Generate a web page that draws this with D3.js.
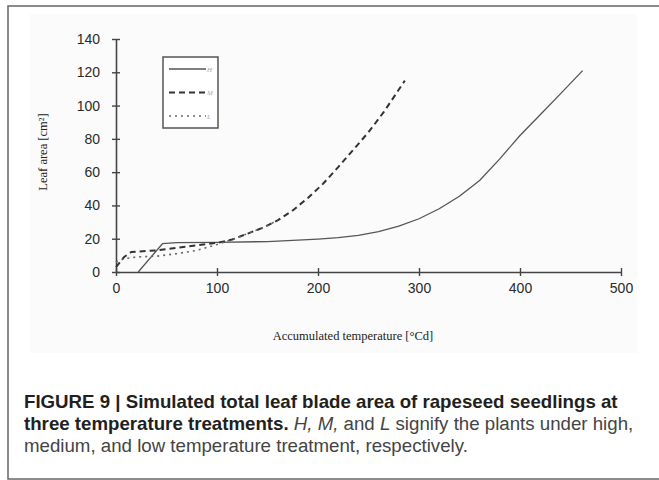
<!DOCTYPE html>
<html>
<head>
<meta charset="utf-8">
<script src="https://cdn.jsdelivr.net/npm/d3@7"></script>
<style>
  body { margin: 0; background: #fff; }
  svg { display: block; }
</style>
</head>
<body>
<svg id="chart" width="659" height="480"></svg>
<script>
// series: [accumulated temperature, leaf area]
const seriesH = [[22,0],[46,17],[60,17.6],[100,17.8],[150,18.3],[200,19.8],[220,20.6],[240,22],[260,24.2],[280,27.5],[300,32],[320,38],[340,45.5],[360,55],[380,68],[400,82],[420,94.5],[440,107],[462,121]];
const seriesM = [[0,3],[8,9],[15,12],[40,13],[60,14.5],[80,16],[100,17.5],[115,19.5],[130,23],[145,26.5],[160,31],[175,37],[190,44.5],[205,53],[220,63],[235,73.5],[250,84],[265,96],[286,115]];
const seriesL = [[0,6],[8,8],[20,9],[40,9.5],[60,11],[80,13],[100,16.5],[115,19.5],[130,23],[145,26.5],[160,31]];
const xTicks = [0, 100, 200, 300, 400, 500];
const yTicks = [0, 20, 40, 60, 80, 100, 120, 140];
const legendNames = ['H', 'M', 'L'];

const svg = d3.select('#chart');

// outer frame (right side runs off the page)
svg.append('rect')
    .attr('x', 8).attr('y', 6)
    .attr('width', 670).attr('height', 473)
    .attr('fill', 'none')
    .attr('stroke', '#666')
    .attr('stroke-width', 1.5);

// faint background of the embedded chart image
svg.append('rect')
    .attr('x', 30).attr('y', 14)
    .attr('width', 607).attr('height', 339)
    .attr('fill', '#fbfbfb');

const x = d3.scaleLinear().domain([0, 500]).range([116, 621]);
const y = d3.scaleLinear().domain([0, 140]).range([272, 39]);

const tickFont = '14px "Liberation Sans", Arial, sans-serif';

// y axis
const gy = svg.append('g')
    .attr('transform', `translate(${x(0)},0)`)
    .call(d3.axisLeft(y).tickValues(yTicks).tickSize(4).tickPadding(12).tickSizeOuter(0));
gy.selectAll('.tick line').attr('x1', -4).attr('x2', 4);

// x axis
const gx = svg.append('g')
    .attr('transform', `translate(0,${y(0)})`)
    .call(d3.axisBottom(x).tickValues(xTicks).tickSize(4).tickPadding(7).tickSizeOuter(0));
gx.selectAll('.tick line').attr('y1', -4).attr('y2', 4);

[gx, gy].forEach(g => {
    g.select('.domain').attr('stroke', '#444').attr('stroke-width', 1.6);
    g.selectAll('.tick line').attr('stroke', '#444').attr('stroke-width', 1.4);
    g.selectAll('.tick text').style('font', tickFont).attr('fill', '#2a2a2a');
});

// curves
const line = d3.line()
    .x(d => x(d[0]))
    .y(d => y(d[1]));

const styles = [
    { data: seriesH, dash: null, width: 1.3, color: '#555' },
    { data: seriesM, dash: '6,4', width: 2, color: '#333' },
    { data: seriesL, dash: '2,4', width: 1.6, color: '#666' }
];

styles.forEach(s => {
    svg.append('path')
        .datum(s.data)
        .attr('d', line)
        .attr('fill', 'none')
        .attr('stroke', s.color)
        .attr('stroke-width', s.width)
        .attr('stroke-linejoin', 'round')
        .attr('stroke-dasharray', s.dash);
});

// legend
svg.append('rect')
    .attr('x', 163).attr('y', 57)
    .attr('width', 55).attr('height', 71)
    .attr('fill', '#fff')
    .attr('stroke', '#555')
    .attr('stroke-width', 1.5);

styles.forEach((s, i) => {
    const ly = 69 + i * 23.5;
    svg.append('line')
        .attr('x1', 169).attr('x2', 206)
        .attr('y1', ly).attr('y2', ly)
        .attr('stroke', s.color)
        .attr('stroke-width', s.width)
        .attr('stroke-dasharray', s.dash);
    svg.append('text')
        .attr('x', 207).attr('y', ly + 2.5)
        .style('font', 'italic 7px "Liberation Serif", serif')
        .attr('fill', '#aaa')
        .text(legendNames[i]);
});

// axis titles
svg.append('text')
    .attr('transform', 'translate(47,152) rotate(-90)')
    .attr('text-anchor', 'middle')
    .style('font', '12.5px "Liberation Serif", "Times New Roman", serif')
    .attr('fill', '#222')
    .text('Leaf area [cm²]');

svg.append('text')
    .attr('x', 353).attr('y', 340)
    .attr('text-anchor', 'middle')
    .style('font', '12.5px "Liberation Serif", "Times New Roman", serif')
    .attr('fill', '#222')
    .text('Accumulated temperature [°Cd]');

// caption
const capFont = '"Liberation Sans", Arial, sans-serif';
const cap = svg.append('g').style('font-family', capFont);

const l1 = cap.append('text')
    .attr('x', 24).attr('y', 408)
    .attr('font-weight', 'bold')
    .attr('fill', '#231f20')
    .style('font-size', '16px')
    .text('FIGURE 9 | Simulated total leaf blade area of rapeseed seedlings at');

// fit line one to its width in the figure
const fs = 16 * 594 / l1.node().getComputedTextLength();
l1.style('font-size', fs + 'px');

const l2 = cap.append('text')
    .attr('x', 24).attr('y', 430)
    .style('font-size', fs + 'px');
l2.append('tspan').attr('font-weight', 'bold').attr('fill', '#231f20').text('three temperature treatments. ');
l2.append('tspan').attr('font-style', 'italic').attr('fill', '#444').text('H, M,');
l2.append('tspan').attr('fill', '#444').text(' and ');
l2.append('tspan').attr('font-style', 'italic').attr('fill', '#444').text('L');
l2.append('tspan').attr('fill', '#444').text(' signify the plants under high,');

cap.append('text')
    .attr('x', 24).attr('y', 452)
    .style('font-size', fs + 'px')
    .attr('fill', '#444')
    .text('medium, and low temperature treatment, respectively.');
</script>
</body>
</html>
